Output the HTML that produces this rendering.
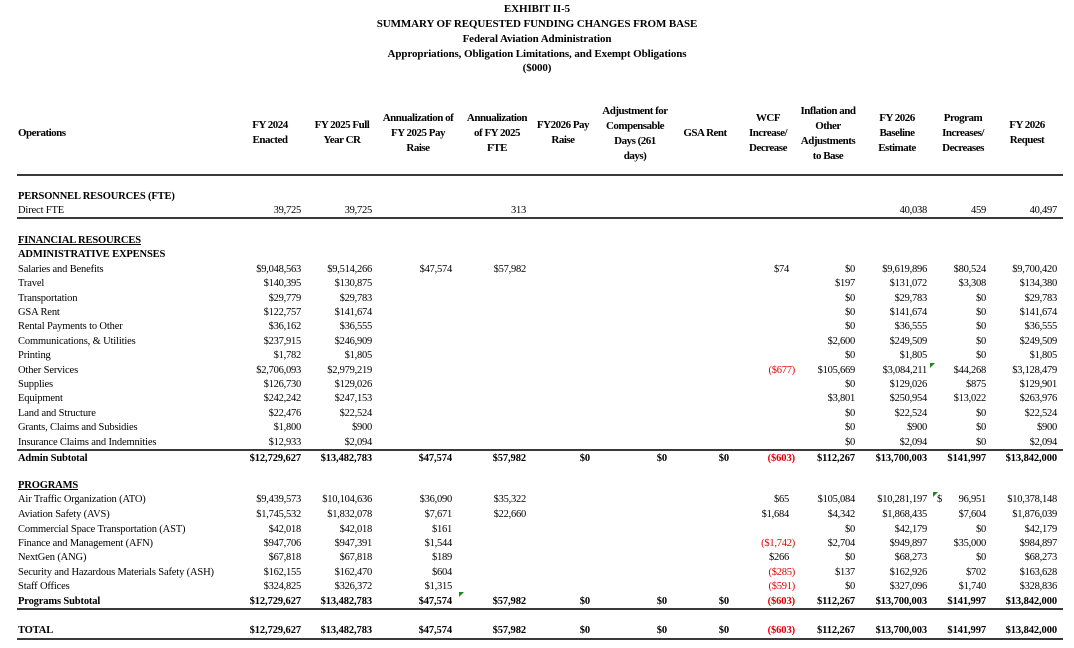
<!DOCTYPE html>
<html><head><meta charset="utf-8"><style>
body{margin:0;background:#fff;}
#p{position:relative;width:1074px;height:648px;overflow:hidden;background:#fff;font-family:"Liberation Serif",serif;color:#000;}
.t{position:absolute;left:0;width:1074px;text-align:center;font-weight:bold;font-size:11px;letter-spacing:-0.1px;line-height:14px;}
.h{position:absolute;font-weight:bold;font-size:11px;letter-spacing:-0.5px;line-height:15px;text-align:center;width:90px;}
.r{position:absolute;left:0;width:1074px;height:14px;font-size:10.5px;line-height:14px;letter-spacing:-0.25px;}
.r span{position:absolute;top:0;white-space:nowrap;}
.r .l{left:18px;letter-spacing:-0.15px;}
.b{font-weight:bold;}
.b span{letter-spacing:-0.1px;}
.c1{right:773px}.c2{right:702px}.c3{right:622px}.c4{right:548px}.c5{right:484px}.c6{right:407px}.c7{right:345px}
.c8{right:285px}.c8p{right:279px;color:#e00000}.c9{right:219px}.c10{right:147px}.c11{right:88px}.c12{right:17px}
.rule{position:absolute;left:17px;width:1046px;height:2px;background:#3a3a3a;}
.u{text-decoration:underline;}
.tri{position:absolute;width:0;height:0;border-top:5px solid #1a8a1a;border-right:5px solid transparent;}
</style></head><body><div id="p">
<div class="t" style="top:2px">EXHIBIT II-5</div>
<div class="t" style="top:17px">SUMMARY OF REQUESTED FUNDING CHANGES FROM BASE</div>
<div class="t" style="top:32px">Federal Aviation Administration</div>
<div class="t" style="top:47px">Appropriations, Obligation Limitations, and Exempt Obligations</div>
<div class="t" style="top:61px">($000)</div>

<div class="h" style="left:18px;top:126px;text-align:left">Operations</div>
<div class="h" style="left:225px;top:118px">FY 2024<br>Enacted</div>
<div class="h" style="left:297px;top:118px">FY 2025 Full<br>Year CR</div>
<div class="h" style="left:373px;top:111px">Annualization of<br>FY 2025 Pay<br>Raise</div>
<div class="h" style="left:452px;top:111px">Annualization<br>of FY 2025<br>FTE</div>
<div class="h" style="left:518px;top:118px">FY2026 Pay<br>Raise</div>
<div class="h" style="left:590px;top:104px">Adjustment for<br>Compensable<br>Days (261<br>days)</div>
<div class="h" style="left:660px;top:126px">GSA Rent</div>
<div class="h" style="left:723px;top:111px">WCF<br>Increase/<br>Decrease</div>
<div class="h" style="left:783px;top:104px">Inflation and<br>Other<br>Adjustments<br>to Base</div>
<div class="h" style="left:852px;top:111px">FY 2026<br>Baseline<br>Estimate</div>
<div class="h" style="left:918px;top:111px">Program<br>Increases/<br>Decreases</div>
<div class="h" style="left:982px;top:118px">FY 2026<br>Request</div>

<div class="rule" style="top:174px"></div>

<div class="r b" style="top:190px"><span class="l">PERSONNEL RESOURCES (FTE)</span></div>
<div class="r" style="top:204px"><span class="l">Direct FTE</span><span class="c1">39,725</span><span class="c2">39,725</span><span class="c4">313</span><span class="c10">40,038</span><span class="c11">459</span><span class="c12">40,497</span></div>
<div class="rule" style="top:217px"></div>

<div class="r b" style="top:234px"><span class="l u">FINANCIAL RESOURCES</span></div>
<div class="r b" style="top:248px"><span class="l">ADMINISTRATIVE EXPENSES</span></div>
<div class="r" style="top:263px"><span class="l">Salaries and Benefits</span><span class="c1">$9,048,563</span><span class="c2">$9,514,266</span><span class="c3">$47,574</span><span class="c4">$57,982</span><span class="c8">$74</span><span class="c9">$0</span><span class="c10">$9,619,896</span><span class="c11">$80,524</span><span class="c12">$9,700,420</span></div>
<div class="r" style="top:277px"><span class="l">Travel</span><span class="c1">$140,395</span><span class="c2">$130,875</span><span class="c9">$197</span><span class="c10">$131,072</span><span class="c11">$3,308</span><span class="c12">$134,380</span></div>
<div class="r" style="top:292px"><span class="l">Transportation</span><span class="c1">$29,779</span><span class="c2">$29,783</span><span class="c9">$0</span><span class="c10">$29,783</span><span class="c11">$0</span><span class="c12">$29,783</span></div>
<div class="r" style="top:306px"><span class="l">GSA Rent</span><span class="c1">$122,757</span><span class="c2">$141,674</span><span class="c9">$0</span><span class="c10">$141,674</span><span class="c11">$0</span><span class="c12">$141,674</span></div>
<div class="r" style="top:320px"><span class="l">Rental Payments to Other</span><span class="c1">$36,162</span><span class="c2">$36,555</span><span class="c9">$0</span><span class="c10">$36,555</span><span class="c11">$0</span><span class="c12">$36,555</span></div>
<div class="r" style="top:335px"><span class="l">Communications, &amp; Utilities</span><span class="c1">$237,915</span><span class="c2">$246,909</span><span class="c9">$2,600</span><span class="c10">$249,509</span><span class="c11">$0</span><span class="c12">$249,509</span></div>
<div class="r" style="top:349px"><span class="l">Printing</span><span class="c1">$1,782</span><span class="c2">$1,805</span><span class="c9">$0</span><span class="c10">$1,805</span><span class="c11">$0</span><span class="c12">$1,805</span></div>
<div class="r" style="top:364px"><span class="l">Other Services</span><span class="c1">$2,706,093</span><span class="c2">$2,979,219</span><span class="c8p">($677)</span><span class="c9">$105,669</span><span class="c10">$3,084,211</span><span class="c11">$44,268</span><span class="c12">$3,128,479</span></div>
<div class="r" style="top:378px"><span class="l">Supplies</span><span class="c1">$126,730</span><span class="c2">$129,026</span><span class="c9">$0</span><span class="c10">$129,026</span><span class="c11">$875</span><span class="c12">$129,901</span></div>
<div class="r" style="top:392px"><span class="l">Equipment</span><span class="c1">$242,242</span><span class="c2">$247,153</span><span class="c9">$3,801</span><span class="c10">$250,954</span><span class="c11">$13,022</span><span class="c12">$263,976</span></div>
<div class="r" style="top:407px"><span class="l">Land and Structure</span><span class="c1">$22,476</span><span class="c2">$22,524</span><span class="c9">$0</span><span class="c10">$22,524</span><span class="c11">$0</span><span class="c12">$22,524</span></div>
<div class="r" style="top:421px"><span class="l">Grants, Claims and Subsidies</span><span class="c1">$1,800</span><span class="c2">$900</span><span class="c9">$0</span><span class="c10">$900</span><span class="c11">$0</span><span class="c12">$900</span></div>
<div class="r" style="top:436px"><span class="l">Insurance Claims and Indemnities</span><span class="c1">$12,933</span><span class="c2">$2,094</span><span class="c9">$0</span><span class="c10">$2,094</span><span class="c11">$0</span><span class="c12">$2,094</span></div>
<div class="rule" style="top:449px"></div>
<div class="r b" style="top:452px"><span class="l">Admin Subtotal</span><span class="c1">$12,729,627</span><span class="c2">$13,482,783</span><span class="c3">$47,574</span><span class="c4">$57,982</span><span class="c5">$0</span><span class="c6">$0</span><span class="c7">$0</span><span class="c8p">($603)</span><span class="c9">$112,267</span><span class="c10">$13,700,003</span><span class="c11">$141,997</span><span class="c12">$13,842,000</span></div>

<div class="r b" style="top:479px"><span class="l u">PROGRAMS</span></div>
<div class="r" style="top:493px"><span class="l">Air Traffic Organization (ATO)</span><span class="c1">$9,439,573</span><span class="c2">$10,104,636</span><span class="c3">$36,090</span><span class="c4">$35,322</span><span class="c8">$65</span><span class="c9">$105,084</span><span class="c10">$10,281,197</span><span style="left:937px">$</span><span class="c11">96,951</span><span class="c12">$10,378,148</span></div>
<div class="r" style="top:508px"><span class="l">Aviation Safety (AVS)</span><span class="c1">$1,745,532</span><span class="c2">$1,832,078</span><span class="c3">$7,671</span><span class="c4">$22,660</span><span class="c8">$1,684</span><span class="c9">$4,342</span><span class="c10">$1,868,435</span><span class="c11">$7,604</span><span class="c12">$1,876,039</span></div>
<div class="r" style="top:523px"><span class="l">Commercial Space Transportation (AST)</span><span class="c1">$42,018</span><span class="c2">$42,018</span><span class="c3">$161</span><span class="c9">$0</span><span class="c10">$42,179</span><span class="c11">$0</span><span class="c12">$42,179</span></div>
<div class="r" style="top:537px"><span class="l">Finance and Management (AFN)</span><span class="c1">$947,706</span><span class="c2">$947,391</span><span class="c3">$1,544</span><span class="c8p">($1,742)</span><span class="c9">$2,704</span><span class="c10">$949,897</span><span class="c11">$35,000</span><span class="c12">$984,897</span></div>
<div class="r" style="top:551px"><span class="l">NextGen (ANG)</span><span class="c1">$67,818</span><span class="c2">$67,818</span><span class="c3">$189</span><span class="c8">$266</span><span class="c9">$0</span><span class="c10">$68,273</span><span class="c11">$0</span><span class="c12">$68,273</span></div>
<div class="r" style="top:566px"><span class="l">Security and Hazardous Materials Safety (ASH)</span><span class="c1">$162,155</span><span class="c2">$162,470</span><span class="c3">$604</span><span class="c8p">($285)</span><span class="c9">$137</span><span class="c10">$162,926</span><span class="c11">$702</span><span class="c12">$163,628</span></div>
<div class="r" style="top:580px"><span class="l">Staff Offices</span><span class="c1">$324,825</span><span class="c2">$326,372</span><span class="c3">$1,315</span><span class="c8p">($591)</span><span class="c9">$0</span><span class="c10">$327,096</span><span class="c11">$1,740</span><span class="c12">$328,836</span></div>
<div class="r b" style="top:595px"><span class="l">Programs Subtotal</span><span class="c1">$12,729,627</span><span class="c2">$13,482,783</span><span class="c3">$47,574</span><span class="c4">$57,982</span><span class="c5">$0</span><span class="c6">$0</span><span class="c7">$0</span><span class="c8p">($603)</span><span class="c9">$112,267</span><span class="c10">$13,700,003</span><span class="c11">$141,997</span><span class="c12">$13,842,000</span></div>
<div class="rule" style="top:608px"></div>
<div class="r b" style="top:624px"><span class="l">TOTAL</span><span class="c1">$12,729,627</span><span class="c2">$13,482,783</span><span class="c3">$47,574</span><span class="c4">$57,982</span><span class="c5">$0</span><span class="c6">$0</span><span class="c7">$0</span><span class="c8p">($603)</span><span class="c9">$112,267</span><span class="c10">$13,700,003</span><span class="c11">$141,997</span><span class="c12">$13,842,000</span></div>
<div class="rule" style="top:638px"></div>

<div class="tri" style="left:459px;top:592px"></div>
<div class="tri" style="left:933px;top:492px"></div>
<div class="tri" style="left:930px;top:363px"></div>
</div></body></html>
